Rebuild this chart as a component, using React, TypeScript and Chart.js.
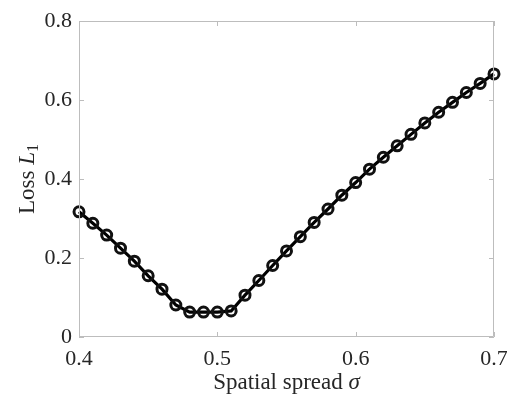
import React, { useEffect, useRef } from "react";
import { Chart, registerables } from "chart.js";

Chart.register(...registerables);

const sigma = [
  0.40, 0.41, 0.42, 0.43, 0.44, 0.45, 0.46, 0.47, 0.48, 0.49, 0.50,
  0.51, 0.52, 0.53, 0.54, 0.55, 0.56, 0.57, 0.58, 0.59, 0.60,
  0.61, 0.62, 0.63, 0.64, 0.65, 0.66, 0.67, 0.68, 0.69, 0.70,
];
const loss = [
  0.317, 0.288, 0.258, 0.225, 0.192, 0.155, 0.121, 0.081, 0.063, 0.063, 0.063,
  0.066, 0.106, 0.143, 0.181, 0.218, 0.254, 0.290, 0.324, 0.359, 0.391,
  0.425, 0.455, 0.484, 0.513, 0.542, 0.569, 0.594, 0.619, 0.642, 0.666,
];
const xTicks = [0.4, 0.5, 0.6, 0.7];
const yTicks = [0, 0.2, 0.4, 0.6, 0.8];

const FONT = "'Liberation Serif', serif";
const TEXT = "#262626";
const AXIS = "#bdbdbd";

const framePlugin = {
  id: "frame",
  afterDraw(chart: any) {
    const { ctx, chartArea: a, scales } = chart;
    const xs = scales.x;
    const ys = scales.y;
    ctx.save();
    ctx.strokeStyle = AXIS;
    ctx.lineWidth = 1;
    ctx.beginPath();
    ctx.rect(a.left + 0.5, a.top + 0.5, a.right - a.left - 1, a.bottom - a.top - 1);
    ctx.stroke();
    const L = 5;
    ctx.beginPath();
    xTicks.forEach((v) => {
      const px = Math.round(xs.getPixelForValue(v)) + 0.5;
      ctx.moveTo(px, a.bottom);
      ctx.lineTo(px, a.bottom - L);
      ctx.moveTo(px, a.top);
      ctx.lineTo(px, a.top + L);
    });
    yTicks.forEach((v) => {
      const py = Math.round(ys.getPixelForValue(v)) + 0.5;
      ctx.moveTo(a.left, py);
      ctx.lineTo(a.left + L, py);
      ctx.moveTo(a.right, py);
      ctx.lineTo(a.right - L, py);
    });
    ctx.stroke();

    ctx.fillStyle = TEXT;
    ctx.textBaseline = "alphabetic";
    const fs = 23;
    const normal = `${fs}px ${FONT}`;
    const italic = `italic ${fs}px ${FONT}`;
    ctx.font = normal;
    const t1 = "Spatial spread ";
    const w1 = ctx.measureText(t1).width;
    ctx.font = italic;
    const w2 = ctx.measureText("σ").width;
    const cx = (a.left + a.right) / 2;
    const x0 = cx - (w1 + w2) / 2;
    const by = 389;
    ctx.font = normal;
    ctx.textAlign = "left";
    ctx.fillText(t1, x0, by);
    ctx.font = italic;
    ctx.fillText("σ", x0 + w1, by);

    ctx.save();
    const cy = (a.top + a.bottom) / 2;
    ctx.translate(34, cy);
    ctx.rotate(-Math.PI / 2);
    ctx.font = normal;
    const s1 = "Loss ";
    const u1 = ctx.measureText(s1).width;
    ctx.font = italic;
    const u2 = ctx.measureText("L").width;
    const subFont = `${Math.round(fs * 0.7)}px ${FONT}`;
    ctx.font = subFont;
    const u3 = ctx.measureText("1").width;
    const sx = -(u1 + u2 + u3) / 2;
    ctx.font = normal;
    ctx.fillText(s1, sx, 0);
    ctx.font = italic;
    ctx.fillText("L", sx + u1, 0);
    ctx.font = subFont;
    ctx.fillText("1", sx + u1 + u2, 4);
    ctx.restore();
    ctx.restore();
  },
};

export default function App() {
  const ref = useRef<HTMLCanvasElement>(null);
  useEffect(() => {
    document.body.style.margin = "0";
    const chart = new Chart(ref.current as HTMLCanvasElement, {
      type: "line",
      data: {
        datasets: [
          {
            data: sigma.map((x, i) => ({ x, y: loss[i] })),
            borderColor: "#000000",
            borderWidth: 3.2,
            pointRadius: 5,
            pointBorderWidth: 3,
            pointBorderColor: "#111111",
            pointBackgroundColor: "rgba(0,0,0,0)",
            tension: 0,
            clip: false as any,
          },
        ],
      },
      options: {
        animation: false,
        responsive: false,
        maintainAspectRatio: false,
        layout: { padding: { left: 0, right: 13, top: 21, bottom: 0 } },
        plugins: { legend: { display: false }, tooltip: { enabled: false } },
        scales: {
          x: {
            type: "linear",
            min: 0.4,
            max: 0.7,
            afterBuildTicks: (s: any) => {
              s.ticks = xTicks.map((v) => ({ value: v }));
            },
            afterFit: (s: any) => {
              s.height = 57;
              s.paddingLeft = 0;
              s.paddingRight = 0;
            },
            grid: { display: false, drawTicks: false },
            border: { display: false },
            ticks: {
              padding: 9,
              color: TEXT,
              font: { family: FONT, size: 22 },
              maxRotation: 0,
              callback: (v: any) => (Number(v) === 0 ? "0" : Number(v).toFixed(1)),
            },
          },
          y: {
            type: "linear",
            min: 0,
            max: 0.8,
            afterBuildTicks: (s: any) => {
              s.ticks = yTicks.map((v) => ({ value: v }));
            },
            afterFit: (s: any) => {
              s.width = 79;
              s.paddingTop = 0;
              s.paddingBottom = 0;
            },
            grid: { display: false, drawTicks: false },
            border: { display: false },
            ticks: {
              padding: 7,
              color: TEXT,
              font: { family: FONT, size: 22 },
              callback: (v: any) => (Number(v) === 0 ? "0" : Number(v).toFixed(1)),
            },
          },
        },
      },
      plugins: [framePlugin],
    });
    return () => chart.destroy();
  }, []);
  return <canvas ref={ref} width={507} height={394} style={{ display: "block" }} />;
}
